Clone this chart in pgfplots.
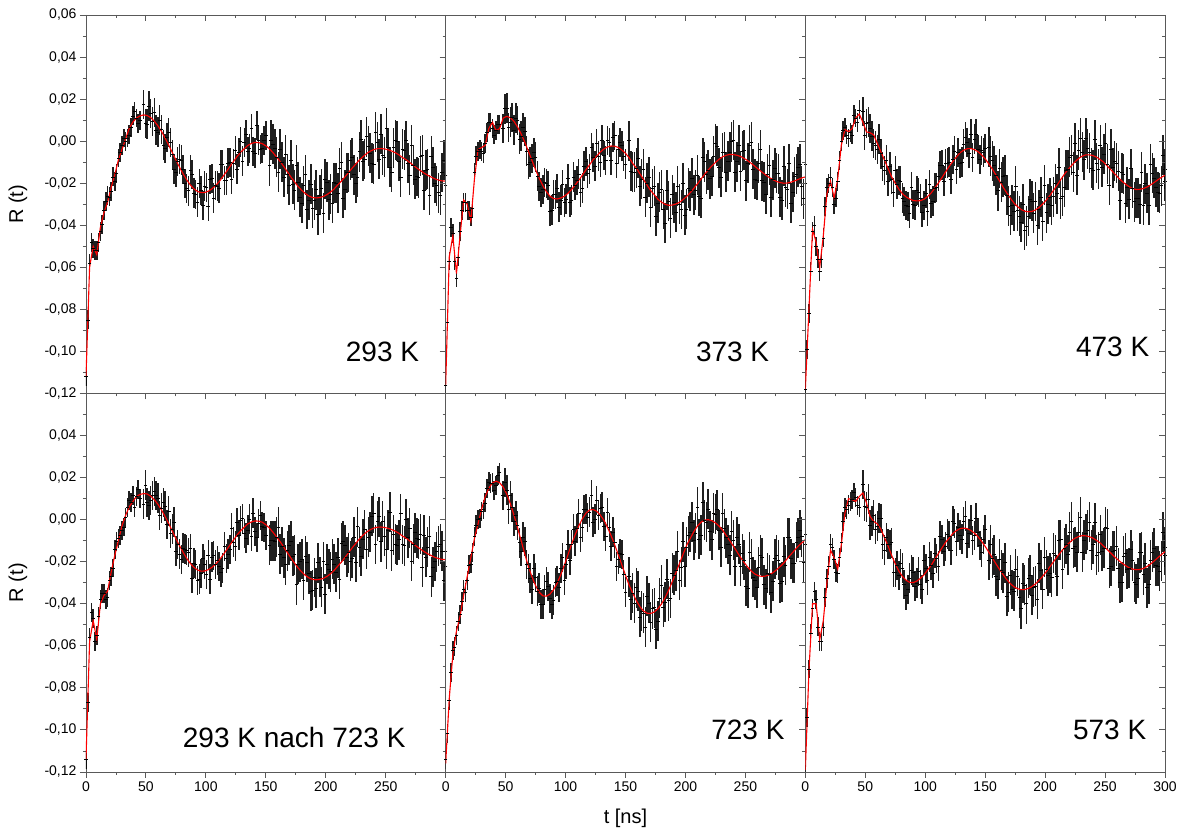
\documentclass[border=0pt]{standalone}
\usepackage{fontspec}
\setmainfont{Liberation Sans}
\usepackage{pgfplots}
\pgfplotsset{compat=1.18}
\usepackage{pgfplotstable}
\usepgfplotslibrary{groupplots}

\pgfplotstableread{
t f d t2 d2
0 -0.112 -0.112 1.5 -0.085
3 -0.060 -0.058 4.5 -0.048
6 -0.050 -0.051 7.5 -0.052
9 -0.054 -0.052 10.5 -0.048
12 -0.041 -0.043 13.5 -0.0395
15 -0.034 -0.033 16.5 -0.0285
18 -0.029 -0.026 19.5 -0.0265
21 -0.022 -0.024 22.5 -0.017
24 -0.016 -0.019 25.5 -0.0155
27 -0.009 -0.008 28.5 -0.0055
30 -0.004 -0.002 31.5 0.0015
33 0.001 0.000 34.5 0.0015
36 0.006 0.003 37.5 0.0065
39 0.009 0.012 40.5 0.014
42 0.011 0.011 43.5 0.0085
45 0.012 0.010 46.5 0.0143
48 0.0125 0.0175 49.5 0.0084
51 0.0122 0.0082 52.5 0.0167
54 0.0112 0.0132 55.5 0.0094
57 0.0095 0.0135 58.5 0.0054
60 0.0073 0.0043 61.5 0.0100
63 0.0046 0.0056 64.5 -0.0019
66 0.0015 -0.0035 67.5 0.0018
69 -0.0019 0.0041 70.5 -0.0007
72 -0.0054 -0.0064 73.5 -0.0132
75 -0.0090 -0.0150 76.5 -0.0097
78 -0.0124 -0.0084 79.5 -0.0090
81 -0.0155 -0.0135 82.5 -0.0200
84 -0.0184 -0.0224 85.5 -0.0236
87 -0.0208 -0.0138 88.5 -0.0158
90 -0.0227 -0.0247 91.5 -0.0253
93 -0.0239 -0.0289 94.5 -0.0202
96 -0.0245 -0.0235 97.5 -0.0305
99 -0.0244 -0.0214 100.5 -0.0221
102 -0.0238 -0.0308 103.5 -0.0183
105 -0.0227 -0.0177 106.5 -0.0270
108 -0.0212 -0.0212 109.5 -0.0213
111 -0.0193 -0.0223 112.5 -0.0112
114 -0.0170 -0.0110 115.5 -0.0188
117 -0.0146 -0.0186 118.5 -0.0104
120 -0.0121 -0.0101 121.5 -0.0179
123 -0.0097 -0.0107 124.5 -0.0045
126 -0.0073 -0.0133 127.5 -0.0053
129 -0.0053 -0.0003 130.5 -0.0095
132 -0.0036 -0.0006 133.5 0.0032
135 -0.0020 -0.0050 136.5 -0.0036
138 -0.0011 0.0059 139.5 -0.0049
141 -0.0006 -0.0056 142.5 0.0074
144 -0.0007 0.0003 145.5 -0.0040
147 -0.0012 -0.0032 148.5 0.0003
150 -0.0022 0.0028 151.5 -0.0109
153 -0.0036 -0.0116 154.5 0.0004
156 -0.0055 -0.0015 157.5 -0.0035
159 -0.0075 -0.0075 160.5 -0.0146
162 -0.0097 -0.0037 163.5 -0.0099
165 -0.0121 -0.0171 166.5 -0.0064
168 -0.0146 -0.0156 169.5 -0.0209
171 -0.0171 -0.0091 172.5 -0.0203
174 -0.0194 -0.0234 175.5 -0.0115
177 -0.0216 -0.0196 178.5 -0.0265
180 -0.0234 -0.0294 181.5 -0.0212
183 -0.0249 -0.0159 184.5 -0.0325
186 -0.0261 -0.0281 187.5 -0.0205
189 -0.0268 -0.0318 190.5 -0.0279
192 -0.0270 -0.0230 193.5 -0.0349
195 -0.0268 -0.0258 196.5 -0.0226
198 -0.0263 -0.0343 199.5 -0.0179
201 -0.0254 -0.0194 202.5 -0.0278
204 -0.0242 -0.0252 205.5 -0.0295
207 -0.0227 -0.0197 208.5 -0.0198
210 -0.0208 -0.0248 211.5 -0.0129
213 -0.0190 -0.0100 214.5 -0.0270
216 -0.0170 -0.0230 217.5 -0.0150
219 -0.0149 -0.0149 220.5 -0.0089
222 -0.0128 -0.0078 223.5 -0.0159
225 -0.0109 -0.0199 226.5 -0.0170
228 -0.0090 -0.0050 229.5 0.0008
231 -0.0074 -0.0094 232.5 -0.0087
234 -0.0059 0.0021 235.5 -0.0024
237 -0.0048 -0.0058 238.5 -0.0104
240 -0.0040 -0.0110 241.5 0.0042
243 -0.0036 -0.0006 244.5 -0.0086
246 -0.0035 0.0035 247.5 -0.0066
249 -0.0037 -0.0077 250.5 0.0061
252 -0.0041 -0.0031 253.5 -0.0124
255 -0.0047 -0.0147 256.5 -0.0031
258 -0.0055 0.0005 259.5 0.0000
261 -0.0065 -0.0095 262.5 -0.0172
264 -0.0078 -0.0038 265.5 -0.0043
267 -0.0088 0.0002 268.5 -0.0105
270 -0.0101 -0.0161 271.5 -0.0018
273 -0.0115 -0.0115 274.5 -0.0182
276 -0.0128 -0.0168 277.5 -0.0174
279 -0.0140 -0.0070 280.5 -0.0066
282 -0.0152 -0.0232 283.5 -0.0137
285 -0.0162 -0.0132 286.5 -0.0257
288 -0.0171 -0.0071 289.5 -0.0125
291 -0.0179 -0.0199 292.5 -0.0212
294 -0.0185 -0.0245 295.5 -0.0257
297 -0.0189 -0.0149 298.5 -0.0090
300 -0.0190 -0.0160 300 -0.0210
}\tA

\pgfplotstableread{
t f d t2 d2
0 -0.116 -0.116 1.5 -0.086
3 -0.055 -0.057 4.5 -0.041
6 -0.045 -0.044 7.5 -0.057
9 -0.063 -0.065 10.5 -0.055
12 -0.045 -0.043 13.5 -0.033
15 -0.028 -0.029 16.5 -0.029
18 -0.030 -0.033 19.5 -0.033
21 -0.038 -0.036 22.5 -0.032
24 -0.018 -0.015 25.5 -0.007
27 -0.004 -0.005 28.5 -0.004
30 -0.003 -0.005 31.5 -0.006
33 -0.002 -0.001 34.5 0.004
36 0.006 0.009 37.5 0.009
39 0.009 0.006 40.5 0.003
42 0.005 0.005 43.5 0.008
45 0.006 0.008 46.5 0.007
48 0.011 0.006 49.5 0.0154
51 0.0118 0.0158 52.5 0.0065
54 0.0111 0.0091 55.5 0.0113
57 0.0094 0.0054 58.5 0.0111
60 0.0067 0.0097 61.5 0.0011
63 0.0034 0.0024 64.5 0.0065
66 -0.0005 0.0045 67.5 -0.0047
69 -0.0048 -0.0108 70.5 -0.0100
72 -0.0092 -0.0082 73.5 -0.0054
75 -0.0136 -0.0076 76.5 -0.0166
78 -0.0176 -0.0216 79.5 -0.0244
81 -0.0211 -0.0231 82.5 -0.0196
84 -0.0240 -0.0200 85.5 -0.0211
87 -0.0262 -0.0332 88.5 -0.0328
90 -0.0273 -0.0253 91.5 -0.0254
93 -0.0275 -0.0225 94.5 -0.0313
96 -0.0270 -0.0280 97.5 -0.0206
99 -0.0262 -0.0292 100.5 -0.0275
102 -0.0248 -0.0178 103.5 -0.0289
105 -0.0230 -0.0280 106.5 -0.0170
108 -0.0209 -0.0209 109.5 -0.0188
111 -0.0186 -0.0156 112.5 -0.0244
114 -0.0162 -0.0222 115.5 -0.0119
117 -0.0136 -0.0096 118.5 -0.0155
120 -0.0113 -0.0133 121.5 -0.0031
123 -0.0088 -0.0078 124.5 -0.0119
126 -0.0070 -0.0010 127.5 -0.0071
129 -0.0052 -0.0102 130.5 0.0005
132 -0.0037 -0.0067 133.5 -0.0093
135 -0.0028 0.0002 136.5 -0.0006
138 -0.0023 -0.0093 139.5 0.0017
141 -0.0024 0.0026 142.5 -0.0107
144 -0.0030 -0.0040 145.5 -0.0006
147 -0.0042 -0.0022 148.5 -0.0070
150 -0.0058 -0.0108 151.5 0.0012
153 -0.0078 0.0002 154.5 -0.0142
156 -0.0106 -0.0146 157.5 -0.0147
159 -0.0127 -0.0127 160.5 -0.0081
162 -0.0155 -0.0215 163.5 -0.0179
165 -0.0182 -0.0132 166.5 -0.0266
168 -0.0209 -0.0199 169.5 -0.0172
171 -0.0235 -0.0315 172.5 -0.0225
174 -0.0255 -0.0215 175.5 -0.0356
177 -0.0276 -0.0296 178.5 -0.0243
180 -0.0290 -0.0230 181.5 -0.0325
183 -0.0300 -0.0390 184.5 -0.0233
186 -0.0305 -0.0285 187.5 -0.0365
189 -0.0304 -0.0254 190.5 -0.0292
192 -0.0299 -0.0339 193.5 -0.0215
195 -0.0291 -0.0301 196.5 -0.0325
198 -0.0278 -0.0198 199.5 -0.0351
201 -0.0263 -0.0323 202.5 -0.0224
204 -0.0245 -0.0235 205.5 -0.0175
207 -0.0224 -0.0254 208.5 -0.0234
210 -0.0203 -0.0163 211.5 -0.0262
213 -0.0180 -0.0270 214.5 -0.0079
216 -0.0158 -0.0098 217.5 -0.0158
219 -0.0137 -0.0137 220.5 -0.0178
222 -0.0118 -0.0168 223.5 -0.0070
225 -0.0101 -0.0011 226.5 -0.0024
228 -0.0086 -0.0126 229.5 -0.0170
231 -0.0074 -0.0054 232.5 -0.0051
234 -0.0067 -0.0147 235.5 -0.0095
237 -0.0063 -0.0053 238.5 -0.0003
240 -0.0064 0.0006 241.5 -0.0146
243 -0.0067 -0.0097 244.5 -0.0020
246 -0.0073 -0.0143 247.5 -0.0048
249 -0.0082 -0.0042 250.5 -0.0188
252 -0.0093 -0.0103 253.5 -0.0020
255 -0.0106 -0.0006 256.5 -0.0133
258 -0.0120 -0.0180 259.5 -0.0187
261 -0.0134 -0.0104 262.5 -0.0041
264 -0.0148 -0.0188 265.5 -0.0195
267 -0.0161 -0.0251 268.5 -0.0157
270 -0.0173 -0.0113 271.5 -0.0268
273 -0.0183 -0.0183 274.5 -0.0128
276 -0.0192 -0.0152 277.5 -0.0155
279 -0.0197 -0.0267 280.5 -0.0279
282 -0.0200 -0.0120 283.5 -0.0220
285 -0.0199 -0.0229 286.5 -0.0107
288 -0.0195 -0.0295 289.5 -0.0242
291 -0.0189 -0.0169 292.5 -0.0156
294 -0.0182 -0.0122 295.5 -0.0109
297 -0.0175 -0.0215 298.5 -0.0273
300 -0.0170 -0.0200 300 -0.0110
}\tB

\pgfplotstableread{
t f d t2 d2
0 -0.118 -0.118 1.5 -0.099
3 -0.080 -0.082 4.5 -0.062
6 -0.042 -0.043 7.5 -0.040
9 -0.048 -0.050 10.5 -0.056
12 -0.060 -0.062 13.5 -0.056
15 -0.045 -0.046 16.5 -0.031
18 -0.025 -0.022 19.5 -0.020
21 -0.019 -0.017 22.5 -0.022
24 -0.027 -0.030 25.5 -0.027
27 -0.018 -0.019 28.5 -0.009
30 -0.002 0.000 31.5 0.005
33 0.0055 0.0065 34.5 0.003
36 0.0045 0.0015 37.5 0.004
39 0.006 0.003 40.5 0.0125
42 0.011 0.011 43.5 0.009
45 0.0129 0.0149 46.5 0.013
48 0.009 0.014 49.5 0.0027
51 0.0044 0.0084 52.5 0.0092
54 0.004 0.006 55.5 0.0025
57 0.003 -0.001 58.5 -0.0020
60 -0.001 -0.004 61.5 0.0010
63 -0.005 -0.006 64.5 -0.0120
66 -0.009 -0.014 67.5 -0.0090
69 -0.013 -0.019 70.5 -0.0120
72 -0.017 -0.018 73.5 -0.0245
75 -0.020 -0.014 76.5 -0.0204
78 -0.0228 -0.0188 79.5 -0.0189
81 -0.025 -0.027 82.5 -0.0288
84 -0.0265 -0.0305 85.5 -0.0310
87 -0.0275 -0.0345 88.5 -0.0219
90 -0.0282 -0.0302 91.5 -0.0303
93 -0.0284 -0.0234 94.5 -0.0244
96 -0.0283 -0.0273 97.5 -0.0340
99 -0.0276 -0.0306 100.5 -0.0250
102 -0.0263 -0.0333 103.5 -0.0205
105 -0.0246 -0.0296 106.5 -0.0285
108 -0.0223 -0.0223 109.5 -0.0221
111 -0.0199 -0.0169 112.5 -0.0116
114 -0.0173 -0.0113 115.5 -0.0190
117 -0.0146 -0.0106 118.5 -0.0103
120 -0.0120 -0.0100 121.5 -0.0179
123 -0.0097 -0.0087 124.5 -0.0046
126 -0.0075 -0.0135 127.5 -0.0055
129 -0.0055 -0.0105 130.5 -0.0099
132 -0.0043 -0.0013 133.5 0.0020
135 -0.0036 -0.0006 136.5 -0.0056
138 -0.0035 0.0035 139.5 -0.0078
141 -0.0040 0.0010 142.5 0.0035
144 -0.0050 -0.0040 145.5 -0.0088
147 -0.0065 -0.0045 148.5 -0.0055
150 -0.0084 -0.0034 151.5 -0.0176
153 -0.0108 -0.0028 154.5 -0.0071
156 -0.0133 -0.0093 157.5 -0.0117
159 -0.0161 -0.0161 160.5 -0.0236
162 -0.0190 -0.0130 163.5 -0.0195
165 -0.0219 -0.0169 166.5 -0.0163
168 -0.0246 -0.0256 169.5 -0.0309
171 -0.0271 -0.0351 172.5 -0.0303
174 -0.0294 -0.0334 175.5 -0.0213
177 -0.0311 -0.0331 178.5 -0.0358
180 -0.0325 -0.0385 181.5 -0.0299
183 -0.0333 -0.0423 184.5 -0.0405
186 -0.0336 -0.0356 187.5 -0.0275
189 -0.0334 -0.0284 190.5 -0.0341
192 -0.0327 -0.0287 193.5 -0.0401
195 -0.0315 -0.0325 196.5 -0.0267
198 -0.0299 -0.0379 199.5 -0.0210
201 -0.0280 -0.0340 202.5 -0.0299
204 -0.0258 -0.0268 205.5 -0.0306
207 -0.0234 -0.0264 208.5 -0.0202
210 -0.0209 -0.0249 211.5 -0.0126
213 -0.0183 -0.0273 214.5 -0.0261
216 -0.0158 -0.0218 217.5 -0.0137
219 -0.0135 -0.0135 220.5 -0.0076
222 -0.0116 -0.0066 223.5 -0.0147
225 -0.0098 -0.0008 226.5 -0.0160
228 -0.0082 -0.0042 229.5 0.0013
231 -0.0071 -0.0051 232.5 -0.0088
234 -0.0065 0.0015 235.5 -0.0035
237 -0.0065 -0.0055 238.5 -0.0127
240 -0.0069 -0.0139 241.5 0.0007
243 -0.0076 -0.0106 244.5 -0.0132
246 -0.0088 -0.0018 247.5 -0.0125
249 -0.0101 -0.0061 250.5 -0.0010
252 -0.0119 -0.0109 253.5 -0.0208
255 -0.0137 -0.0037 256.5 -0.0126
258 -0.0155 -0.0095 259.5 -0.0104
261 -0.0173 -0.0143 262.5 -0.0282
264 -0.0190 -0.0150 265.5 -0.0157
267 -0.0204 -0.0294 268.5 -0.0220
270 -0.0216 -0.0276 271.5 -0.0131
273 -0.0225 -0.0225 274.5 -0.0288
276 -0.0230 -0.0270 277.5 -0.0270
279 -0.0229 -0.0299 280.5 -0.0147
282 -0.0225 -0.0305 283.5 -0.0202
285 -0.0218 -0.0248 286.5 -0.0303
288 -0.0208 -0.0108 289.5 -0.0152
291 -0.0196 -0.0176 292.5 -0.0220
294 -0.0184 -0.0244 295.5 -0.0248
297 -0.0172 -0.0212 298.5 -0.0067
300 -0.0162 -0.0132 300 -0.0190
}\tC

\pgfplotstableread{
t f d t2 d2
0 -0.114 -0.114 1.5 -0.087
3 -0.058 -0.056 4.5 -0.044
6 -0.048 -0.047 7.5 -0.058
9 -0.057 -0.055 10.5 -0.046
12 -0.040 -0.038 13.5 -0.035
15 -0.036 -0.035 16.5 -0.038
18 -0.034 -0.037 19.5 -0.029
21 -0.025 -0.027 22.5 -0.023
24 -0.017 -0.014 25.5 -0.0105
27 -0.010 -0.009 28.5 -0.0075
30 -0.003 -0.005 31.5 -0.0035
33 0.002 0.001 34.5 0.006
36 0.006 0.009 37.5 0.0083
39 0.0085 0.0115 40.5 0.0058
42 0.011 0.011 43.5 0.0145
45 0.012 0.010 46.5 0.0102
48 0.0124 0.0074 49.5 0.0164
51 0.0122 0.0082 52.5 0.0067
54 0.0112 0.0092 55.5 0.0114
57 0.0095 0.0135 58.5 0.0114
60 0.0073 0.0103 61.5 0.0020
63 0.0046 0.0056 64.5 0.0081
66 0.0015 0.0065 67.5 -0.0022
69 -0.0019 0.0041 70.5 -0.0067
72 -0.0054 -0.0044 73.5 -0.0012
75 -0.0090 -0.0150 76.5 -0.0117
78 -0.0124 -0.0164 79.5 -0.0190
81 -0.0155 -0.0135 82.5 -0.0140
84 -0.0184 -0.0144 85.5 -0.0156
87 -0.0208 -0.0138 88.5 -0.0278
90 -0.0227 -0.0207 91.5 -0.0213
93 -0.0239 -0.0289 94.5 -0.0282
96 -0.0245 -0.0255 97.5 -0.0185
99 -0.0244 -0.0214 100.5 -0.0261
102 -0.0238 -0.0168 103.5 -0.0283
105 -0.0227 -0.0177 106.5 -0.0170
108 -0.0212 -0.0212 109.5 -0.0193
111 -0.0193 -0.0223 112.5 -0.0252
114 -0.0170 -0.0230 115.5 -0.0128
117 -0.0146 -0.0186 118.5 -0.0164
120 -0.0121 -0.0141 121.5 -0.0039
123 -0.0097 -0.0107 124.5 -0.0125
126 -0.0073 -0.0013 127.5 -0.0073
129 -0.0053 -0.0003 130.5 0.0005
132 -0.0036 -0.0066 133.5 -0.0088
135 -0.0020 -0.0050 136.5 0.0004
138 -0.0011 -0.0081 139.5 0.0031
141 -0.0006 -0.0056 142.5 -0.0086
144 -0.0007 -0.0017 145.5 0.0020
147 -0.0012 -0.0032 148.5 -0.0038
150 -0.0024 -0.0074 151.5 0.0048
153 -0.0040 -0.0120 154.5 -0.0100
156 -0.0060 -0.0100 157.5 -0.0101
159 -0.0082 -0.0082 160.5 -0.0034
162 -0.0105 -0.0165 163.5 -0.0128
165 -0.0131 -0.0181 166.5 -0.0214
168 -0.0157 -0.0147 169.5 -0.0120
171 -0.0183 -0.0103 172.5 -0.0175
174 -0.0207 -0.0167 175.5 -0.0309
177 -0.0230 -0.0210 178.5 -0.0200
180 -0.0249 -0.0189 181.5 -0.0287
183 -0.0265 -0.0175 184.5 -0.0201
186 -0.0277 -0.0257 187.5 -0.0341
189 -0.0284 -0.0334 190.5 -0.0275
192 -0.0286 -0.0326 193.5 -0.0205
195 -0.0284 -0.0274 196.5 -0.0322
198 -0.0279 -0.0199 199.5 -0.0355
201 -0.0270 -0.0210 202.5 -0.0234
204 -0.0257 -0.0247 205.5 -0.0189
207 -0.0241 -0.0211 208.5 -0.0251
210 -0.0221 -0.0181 211.5 -0.0282
213 -0.0202 -0.0112 214.5 -0.0101
216 -0.0180 -0.0120 217.5 -0.0179
219 -0.0157 -0.0157 220.5 -0.0196
222 -0.0134 -0.0184 223.5 -0.0084
225 -0.0113 -0.0203 226.5 -0.0033
228 -0.0092 -0.0132 229.5 -0.0173
231 -0.0074 -0.0094 232.5 -0.0047
234 -0.0059 -0.0139 235.5 -0.0084
237 -0.0048 -0.0058 238.5 0.0016
240 -0.0040 0.0030 241.5 -0.0118
243 -0.0036 -0.0006 244.5 0.0014
246 -0.0035 -0.0105 247.5 -0.0006
249 -0.0037 -0.0077 250.5 -0.0139
252 -0.0041 -0.0051 253.5 0.0036
255 -0.0047 -0.0147 256.5 -0.0071
258 -0.0055 -0.0115 259.5 -0.0120
261 -0.0065 -0.0095 262.5 0.0028
264 -0.0078 -0.0118 265.5 -0.0123
267 -0.0088 0.0002 268.5 -0.0085
270 -0.0101 -0.0041 271.5 -0.0198
273 -0.0115 -0.0115 274.5 -0.0062
276 -0.0128 -0.0088 277.5 -0.0094
279 -0.0140 -0.0070 280.5 -0.0226
282 -0.0152 -0.0072 283.5 -0.0177
285 -0.0162 -0.0132 286.5 -0.0077
288 -0.0171 -0.0271 289.5 -0.0225
291 -0.0179 -0.0199 292.5 -0.0152
294 -0.0185 -0.0125 295.5 -0.0117
297 -0.0189 -0.0149 298.5 -0.0290
300 -0.0190 -0.0220 300 -0.0150
}\tD

\pgfplotstableread{
t f d t2 d2
0 -0.116 -0.114 1.5 -0.1015
3 -0.085 -0.086 4.5 -0.0725
6 -0.064 -0.062 7.5 -0.0605
9 -0.053 -0.055 10.5 -0.0485
12 -0.046 -0.045 13.5 -0.039
15 -0.036 -0.033 16.5 -0.0345
18 -0.027 -0.029 19.5 -0.0215
21 -0.018 -0.021 22.5 -0.0155
24 -0.009 -0.008 25.5 -0.0025
27 -0.002 0.000 28.5 0.0005
30 0.005 0.004 31.5 0.005
33 0.011 0.008 34.5 0.015
36 0.015 0.018 37.5 0.0173
39 0.0175 0.0175 40.5 0.0139
42 0.0183 0.0163 43.5 0.0210
45 0.0176 0.0226 46.5 0.0146
48 0.0155 0.0115 49.5 0.0178
51 0.0121 0.0141 52.5 0.0048
54 0.0075 0.0115 55.5 0.0058
57 0.0021 -0.0009 58.5 0.0021
60 -0.0039 -0.0029 61.5 -0.0110
63 -0.0101 -0.0151 64.5 -0.0082
66 -0.0163 -0.0103 67.5 -0.0213
69 -0.0223 -0.0233 70.5 -0.0278
72 -0.0272 -0.0332 73.5 -0.0233
75 -0.0314 -0.0274 76.5 -0.0340
78 -0.0345 -0.0325 79.5 -0.0404
81 -0.0362 -0.0402 82.5 -0.0333
84 -0.0364 -0.0294 85.5 -0.0319
87 -0.0354 -0.0374 88.5 -0.0404
90 -0.0333 -0.0383 91.5 -0.0298
93 -0.0302 -0.0292 94.5 -0.0322
96 -0.0262 -0.0232 97.5 -0.0179
99 -0.0216 -0.0286 100.5 -0.0212
102 -0.0167 -0.0117 103.5 -0.0192
105 -0.0117 -0.0117 106.5 -0.0045
108 -0.0072 -0.0102 109.5 -0.0041
111 -0.0030 0.0030 112.5 -0.0083
114 0.0004 -0.0036 115.5 0.0048
117 0.0031 0.0051 118.5 0.0009
120 0.0046 0.0036 121.5 0.0117
123 0.0048 -0.0012 124.5 0.0004
126 0.0040 0.0090 127.5 0.0021
129 0.0022 0.0052 130.5 0.0060
132 -0.0003 -0.0033 133.5 -0.0080
135 -0.0037 0.0033 136.5 -0.0037
138 -0.0076 -0.0126 139.5 -0.0058
141 -0.0120 -0.0110 142.5 -0.0224
144 -0.0167 -0.0187 145.5 -0.0162
147 -0.0216 -0.0166 148.5 -0.0260
150 -0.0264 -0.0344 151.5 -0.0208
153 -0.0311 -0.0271 154.5 -0.0380
156 -0.0349 -0.0349 157.5 -0.0397
159 -0.0384 -0.0324 160.5 -0.0339
162 -0.0414 -0.0464 163.5 -0.0434
165 -0.0434 -0.0444 166.5 -0.0510
168 -0.0445 -0.0365 169.5 -0.0396
171 -0.0446 -0.0486 172.5 -0.0423
174 -0.0439 -0.0419 175.5 -0.0522
177 -0.0424 -0.0484 178.5 -0.0373
180 -0.0401 -0.0311 181.5 -0.0416
183 -0.0371 -0.0391 184.5 -0.0283
186 -0.0335 -0.0385 187.5 -0.0375
189 -0.0295 -0.0255 190.5 -0.0264
192 -0.0253 -0.0243 193.5 -0.0151
195 -0.0209 -0.0289 196.5 -0.0227
198 -0.0165 -0.0105 199.5 -0.0224
201 -0.0122 -0.0132 202.5 -0.0076
204 -0.0089 -0.0059 205.5 -0.0013
207 -0.0057 -0.0097 208.5 -0.0064
210 -0.0030 0.0060 211.5 -0.0091
213 -0.0012 -0.0072 214.5 0.0083
216 -0.0002 -0.0002 217.5 -0.0011
219 0.0000 0.0050 220.5 -0.0053
222 -0.0005 -0.0095 223.5 0.0030
225 -0.0015 0.0025 226.5 0.0047
228 -0.0030 -0.0050 229.5 -0.0130
231 -0.0050 0.0030 232.5 -0.0043
234 -0.0075 -0.0085 235.5 -0.0118
237 -0.0100 -0.0170 238.5 -0.0053
240 -0.0126 -0.0096 241.5 -0.0220
243 -0.0153 -0.0083 244.5 -0.0117
246 -0.0180 -0.0220 247.5 -0.0162
249 -0.0204 -0.0194 250.5 -0.0315
252 -0.0226 -0.0326 253.5 -0.0156
255 -0.0245 -0.0185 256.5 -0.0272
258 -0.0259 -0.0289 259.5 -0.0323
261 -0.0267 -0.0227 262.5 -0.0169
264 -0.0270 -0.0180 265.5 -0.0309
267 -0.0268 -0.0328 268.5 -0.0255
270 -0.0262 -0.0262 271.5 -0.0347
273 -0.0252 -0.0292 274.5 -0.0185
276 -0.0238 -0.0168 277.5 -0.0191
279 -0.0223 -0.0303 280.5 -0.0295
282 -0.0206 -0.0176 283.5 -0.0216
285 -0.0185 -0.0085 286.5 -0.0085
288 -0.0165 -0.0185 289.5 -0.0206
291 -0.0146 -0.0206 292.5 -0.0106
294 -0.0126 -0.0086 295.5 -0.0049
297 -0.0111 -0.0081 298.5 -0.0203
300 -0.0095 -0.0115 300 -0.0070
}\tE

\pgfplotstableread{
t f d t2 d2
0 -0.119 -0.121 1.5 -0.094
3 -0.072 -0.071 4.5 -0.054
6 -0.040 -0.042 7.5 -0.034
9 -0.040 -0.038 10.5 -0.051
12 -0.057 -0.058 13.5 -0.058
15 -0.048 -0.051 16.5 -0.037
18 -0.030 -0.028 19.5 -0.022
21 -0.0145 -0.0115 22.5 -0.013
24 -0.018 -0.019 25.5 -0.025
27 -0.0235 -0.0255 28.5 -0.018
30 -0.012 -0.011 31.5 -0.001
33 0.003 0.006 34.5 0.005
36 0.010 0.007 37.5 0.0088
39 0.0095 0.0095 40.5 0.013
42 0.0087 0.0107 43.5 0.0068
45 0.011 0.006 46.5 0.014
48 0.0127 0.0167 49.5 0.0064
51 0.008 0.006 52.5 0.0098
54 0.0015 -0.0025 55.5 -0.0006
57 -0.0008 0.0022 58.5 -0.0044
60 -0.002 -0.003 61.5 0.0007
63 -0.0045 0.0005 64.5 -0.0115
66 -0.0085 -0.0145 67.5 -0.0085
69 -0.0125 -0.0115 70.5 -0.0118
72 -0.0170 -0.0110 73.5 -0.0250
75 -0.0210 -0.0250 76.5 -0.0218
78 -0.0245 -0.0265 79.5 -0.0208
81 -0.0270 -0.0230 82.5 -0.0309
84 -0.0288 -0.0358 85.5 -0.0333
87 -0.0298 -0.0278 88.5 -0.0239
90 -0.0299 -0.0249 91.5 -0.0316
93 -0.0292 -0.0302 94.5 -0.0246
96 -0.0279 -0.0309 97.5 -0.0331
99 -0.0262 -0.0192 100.5 -0.0231
102 -0.0239 -0.0289 103.5 -0.0178
105 -0.0217 -0.0217 106.5 -0.0253
108 -0.0188 -0.0158 109.5 -0.0185
111 -0.0161 -0.0221 112.5 -0.0078
114 -0.0134 -0.0094 115.5 -0.0151
117 -0.0108 -0.0128 118.5 -0.0068
120 -0.0087 -0.0077 121.5 -0.0147
123 -0.0066 -0.0006 124.5 -0.0019
126 -0.0052 -0.0102 127.5 -0.0038
129 -0.0043 -0.0073 130.5 -0.0092
132 -0.0040 -0.0010 133.5 0.0018
135 -0.0043 -0.0113 136.5 -0.0067
138 -0.0051 -0.0001 139.5 -0.0098
141 -0.0064 -0.0074 142.5 0.0007
144 -0.0081 -0.0061 145.5 -0.0122
147 -0.0103 -0.0153 148.5 -0.0095
150 -0.0127 -0.0047 151.5 -0.0221
153 -0.0154 -0.0194 154.5 -0.0118
156 -0.0182 -0.0182 157.5 -0.0166
159 -0.0210 -0.0270 160.5 -0.0284
162 -0.0237 -0.0187 163.5 -0.0240
165 -0.0262 -0.0252 166.5 -0.0204
168 -0.0285 -0.0365 169.5 -0.0345
171 -0.0304 -0.0264 172.5 -0.0332
174 -0.0319 -0.0339 175.5 -0.0234
177 -0.0328 -0.0268 178.5 -0.0371
180 -0.0333 -0.0423 181.5 -0.0303
183 -0.0332 -0.0312 184.5 -0.0400
186 -0.0327 -0.0277 187.5 -0.0263
189 -0.0318 -0.0358 190.5 -0.0322
192 -0.0305 -0.0315 193.5 -0.0377
195 -0.0288 -0.0208 196.5 -0.0239
198 -0.0269 -0.0329 199.5 -0.0178
201 -0.0247 -0.0237 202.5 -0.0266
204 -0.0224 -0.0254 205.5 -0.0272
207 -0.0200 -0.0160 208.5 -0.0169
210 -0.0177 -0.0267 211.5 -0.0096
213 -0.0155 -0.0095 214.5 -0.0235
216 -0.0134 -0.0134 217.5 -0.0115
219 -0.0116 -0.0166 220.5 -0.0058
222 -0.0100 -0.0010 223.5 -0.0134
225 -0.0088 -0.0128 226.5 -0.0154
228 -0.0080 -0.0060 229.5 0.0012
231 -0.0076 -0.0156 232.5 -0.0097
234 -0.0077 -0.0067 235.5 -0.0049
237 -0.0081 -0.0011 238.5 -0.0145
240 -0.0088 -0.0118 241.5 -0.0014
243 -0.0099 -0.0169 244.5 -0.0155
246 -0.0111 -0.0071 247.5 -0.0149
249 -0.0127 -0.0137 250.5 -0.0035
252 -0.0143 -0.0043 253.5 -0.0232
255 -0.0160 -0.0220 256.5 -0.0149
258 -0.0177 -0.0147 259.5 -0.0125
261 -0.0192 -0.0232 262.5 -0.0299
264 -0.0206 -0.0296 265.5 -0.0172
267 -0.0218 -0.0158 268.5 -0.0234
270 -0.0229 -0.0229 271.5 -0.0142
273 -0.0235 -0.0195 274.5 -0.0297
276 -0.0238 -0.0308 277.5 -0.0278
279 -0.0237 -0.0157 280.5 -0.0155
282 -0.0232 -0.0262 283.5 -0.0208
285 -0.0223 -0.0323 286.5 -0.0307
288 -0.0211 -0.0191 289.5 -0.0154
291 -0.0196 -0.0136 292.5 -0.0219
294 -0.0181 -0.0221 295.5 -0.0244
297 -0.0166 -0.0196 298.5 -0.0059
300 -0.0152 -0.0132 300 -0.0170
}\tF

\pgfplotsset{
  dat/.style={black, only marks, mark=-, mark size=1.8pt,
    mark options={line width=0.6pt, black},
    error bars/y dir=both, error bars/error mark=none,
    error bars/error bar style={line width=1.5pt, black, opacity=0.88}},
  fitline/.style={red, line width=1.1pt, no marks},
}
\tikzset{lab/.style={anchor=east, inner sep=0pt, font=\fontsize{28}{28}\selectfont}}
\newcommand{\panel}[1]{%
  \addplot[dat, restrict x to domain=0:46, error bars/y fixed=0.0045] table[x=t,y=d]{#1};
  \addplot[dat, restrict x to domain=47:151, error bars/y fixed=0.007] table[x=t,y=d]{#1};
  \addplot[dat, restrict x to domain=152:301, error bars/y fixed=0.0095] table[x=t,y=d]{#1};
  \addplot[dat, restrict x to domain=0:46, error bars/y fixed=0.0045] table[x=t2,y=d2]{#1};
  \addplot[dat, restrict x to domain=47:151, error bars/y fixed=0.007] table[x=t2,y=d2]{#1};
  \addplot[dat, restrict x to domain=152:301, error bars/y fixed=0.0095] table[x=t2,y=d2]{#1};
  \addplot[fitline] table[x=t,y=f]{#1};
}

\begin{document}
\begin{tikzpicture}
\begin{groupplot}[
  group style={group size=3 by 2, horizontal sep=0pt, vertical sep=0pt,
    xticklabels at=edge bottom, yticklabels at=edge left},
  scale only axis, width=359.67pt, height=378.5pt,
  xmin=0, xmax=300, ymin=-0.12, ymax=0.06,
  xtick={0,50,100,150,200,250,300}, minor x tick num=1,
  ytick={-0.12,-0.10,-0.08,-0.06,-0.04,-0.02,0,0.02,0.04,0.06}, minor y tick num=1,
  tick align=outside, xtick pos=left, ytick pos=left,
  major tick length=6pt, minor tick length=3pt,
  axis line style={black!65, line width=0.9pt},
  every tick/.style={black!65, line width=0.9pt},
  every minor tick/.style={black!65, line width=0.9pt},
  tick label style={font=\fontsize{14}{14}\selectfont},
  /pgf/number format/assume math mode=true,
  label style={font=\fontsize{20}{20}\selectfont},
  ylabel style={at={(axis description cs:-0.189,0.5)}, anchor=center},
  xlabel style={at={(axis description cs:0.5,-0.1215)}, anchor=center},
]
\nextgroupplot[ylabel={R (t)},
  yticklabels={{-0,12},{-0,10},{-0,08},{-0,06},{-0,04},{-0,02},{0,00},{0,02},{0,04},{0,06}}]
\panel{\tA}
\node[lab] at (axis cs:278,-0.1004) {293 K};

\nextgroupplot
\panel{\tB}
\node[lab] at (axis cs:270,-0.1004) {373 K};

\nextgroupplot
\panel{\tC}
\node[lab] at (axis cs:287,-0.098) {473 K};

\nextgroupplot[ylabel={R (t)},
  yticklabels={{-0,12},{-0,10},{-0,08},{-0,06},{-0,04},{-0,02},{0,00},{0,02},{0,04},{}},
  xticklabels={0,50,100,150,200,250,{}}]
\panel{\tD}
\node[lab] at (axis cs:266.7,-0.1036) {293 K nach 723 K};

\nextgroupplot[xlabel={t [ns]}, xticklabels={0,50,100,150,200,250,{}}]
\panel{\tE}
\node[lab] at (axis cs:282.8,-0.100) {723 K};

\nextgroupplot[xticklabels={0,50,100,150,200,250,300}]
\panel{\tF}
\node[lab] at (axis cs:284.5,-0.100) {573 K};
\end{groupplot}

% inward ticks on the top edge and on the right edge
\begin{axis}[at={(group c1r1.north west)}, anchor=north west,
  scale only axis, width=1079pt, height=378.5pt,
  xmin=0, xmax=900, ymin=0, ymax=1,
  axis x line*=top, axis y line=none,
  xtick={0,50,...,900}, minor x tick num=1, xticklabels={},
  tick align=inside, major tick length=6pt, minor tick length=3pt,
  axis line style={black!65, line width=0.9pt},
  every tick/.style={black!65, line width=0.9pt},
  every minor tick/.style={black!65, line width=0.9pt}]
\end{axis}
\begin{axis}[at={(group c3r1.north east)}, anchor=north east,
  scale only axis, width=359.67pt, height=757pt,
  xmin=0, xmax=1, ymin=-0.30, ymax=0.06,
  axis y line*=right, axis x line=none,
  ytick distance=0.02, minor y tick num=1, yticklabels={},
  tick align=inside, major tick length=6pt, minor tick length=3pt,
  axis line style={black!65, line width=0.9pt},
  every tick/.style={black!65, line width=0.9pt},
  every minor tick/.style={black!65, line width=0.9pt}]
\end{axis}

\pgfresetboundingbox
\path[use as bounding box] ([xshift=-86pt,yshift=15pt]group c1r1.north west) rectangle ([xshift=21pt,yshift=-58pt]group c3r2.south east);
\end{tikzpicture}
\end{document}
